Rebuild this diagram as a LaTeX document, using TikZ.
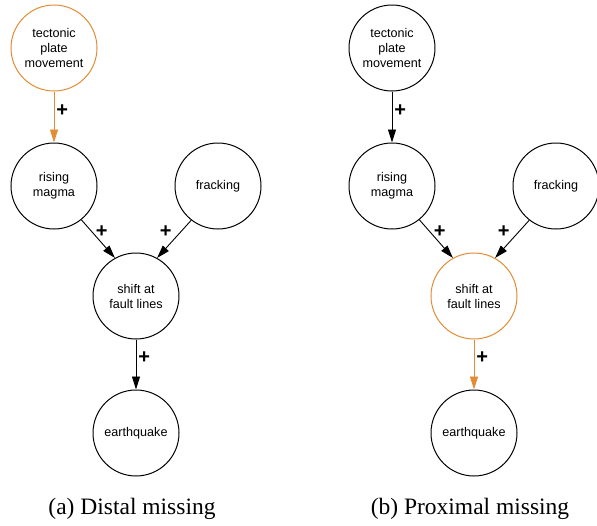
\documentclass[tikz,border=0pt]{standalone}
\usepackage{fontspec}
\setmainfont{Liberation Serif}
\newfontfamily\nodefont{Liberation Sans}
\usetikzlibrary{arrows.meta}
\definecolor{missline}{RGB}{226,140,52}
\definecolor{edgeline}{RGB}{0,0,0}

\begin{document}
\begin{tikzpicture}[
  x=1pt, y=-1pt,
  >={Triangle[length=13pt,width=8pt]},
  factor/.style={
    circle, draw=edgeline, line width=1pt, fill=white,
    minimum size=86pt, inner sep=0pt, align=center,
    font=\nodefont\fontsize{12.6}{15}\selectfont
  },
  missing/.style={factor, draw=missline},
  link/.style={->, line width=0.9pt, edgeline},
  misslink/.style={link, missline},
  sign/.style={font=\nodefont\bfseries\fontsize{20}{20}\selectfont, text=black, inner sep=1pt},
  caption/.style={font=\fontsize{23.5}{26}\selectfont}
]
\useasboundingbox (0,0) rectangle (597,525);

% =====================================================================
% (a) Distal missing
% =====================================================================
\node[missing] (TectA) at (54,48) {tectonic\\plate\\movement};
\node[factor] (MagmaA) at (54,186) {rising\\magma};
\node[factor] (FrackA) at (218,186) {fracking};
\node[factor] (ShiftA) at (136,296) {shift at\\fault lines};
\node[factor] (QuakeA) at (136,433) {earthquake};

\draw[misslink] (TectA) -- (MagmaA)
  node[sign, midway, right, xshift=1pt, yshift=6pt] {+};
\draw[link] (MagmaA.-51) -- (ShiftA.119)
  node[sign, pos=0.3, right, xshift=3pt] {+};
\draw[link] (FrackA.-128) -- (ShiftA.61)
  node[sign, pos=0.3, left, xshift=-8pt] {+};
\draw[link] (ShiftA) -- (QuakeA)
  node[sign, midway, right, xshift=1pt, yshift=7pt] {+};

\node[caption] (CapA) at (132,509) {(a) Distal missing};

% =====================================================================
% (b) Proximal missing
% =====================================================================
\node[factor] (TectB) at (392,48) {tectonic\\plate\\movement};
\node[factor] (MagmaB) at (392,186) {rising\\magma};
\node[factor] (FrackB) at (556,186) {fracking};
\node[missing] (ShiftB) at (474,296) {shift at\\fault lines};
\node[factor] (QuakeB) at (474,433) {earthquake};

\draw[link] (TectB) -- (MagmaB)
  node[sign, midway, right, xshift=1pt, yshift=6pt] {+};
\draw[link] (MagmaB.-51) -- (ShiftB.119)
  node[sign, pos=0.3, right, xshift=3pt] {+};
\draw[link] (FrackB.-128) -- (ShiftB.61)
  node[sign, pos=0.3, left, xshift=-8pt] {+};
\draw[misslink] (ShiftB) -- (QuakeB)
  node[sign, midway, right, xshift=1pt, yshift=7pt] {+};

\node[caption] (CapB) at (470,509) {(b) Proximal missing};

\end{tikzpicture}
\end{document}
